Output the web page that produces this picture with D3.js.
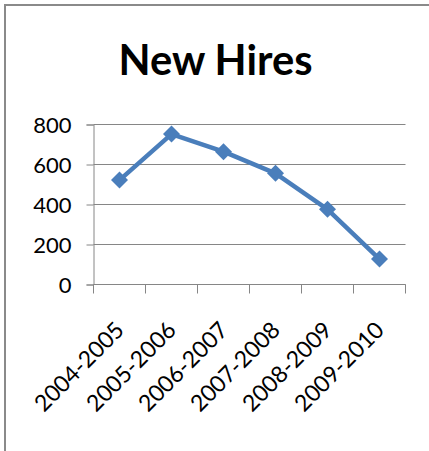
<!DOCTYPE html>
<html>
<head>
<meta charset="utf-8">
<script src="https://cdn.jsdelivr.net/npm/d3@7"></script>
<style>
  html, body { margin: 0; padding: 0; background: #fff; }
  svg { display: block; }
</style>
</head>
<body>
<svg id="chart" width="429" height="451"></svg>
<script>
const categories = ["2004-2005", "2005-2006", "2006-2007", "2007-2008", "2008-2009", "2009-2010"];
const values = [522, 752, 664, 556, 376, 127];
const yTicks = [0, 200, 400, 600, 800];
const title = "New Hires";

const svg = d3.select("#chart");
const W = 429, H = 451;
const plot = { left: 93.5, right: 405.5, top: 124.5, bottom: 284.5 };

// frame (top & left edges only, as in the reference)
svg.append("line").attr("x1", 4).attr("x2", W).attr("y1", 5).attr("y2", 5)
  .attr("stroke", "#8a8a8a").attr("stroke-width", 2);
svg.append("line").attr("x1", 5).attr("x2", 5).attr("y1", 4).attr("y2", H)
  .attr("stroke", "#8a8a8a").attr("stroke-width", 2);

// title
svg.append("text")
  .attr("x", 215.5).attr("y", 75)
  .attr("text-anchor", "middle")
  .attr("font-family", "Lato, 'Open Sans', sans-serif")
  .attr("font-weight", "bold")
  .attr("font-size", 42)
  .attr("textLength", 194)
  .attr("lengthAdjust", "spacingAndGlyphs")
  .attr("fill", "#000")
  .text(title);

const x = d3.scaleBand().domain(categories).range([plot.left, plot.right]).padding(0);
const y = d3.scaleLinear().domain([0, 800]).range([plot.bottom, plot.top]);

// y axis
const yAxis = d3.axisLeft(y).tickValues(yTicks).tickSize(7).tickPadding(15).tickFormat(d3.format("d"));
const gy = svg.append("g").attr("transform", `translate(${plot.left},0)`).call(yAxis);
gy.select(".domain").attr("stroke", "#868686");
gy.selectAll(".tick line").attr("stroke", "#868686");
gy.selectAll(".tick text")
  .attr("font-family", "Lato, 'Open Sans', sans-serif")
  .attr("font-size", 22)
  .attr("fill", "#000")
  .attr("dy", "0.36em");

// gridlines
svg.append("g").selectAll("line").data(yTicks).join("line")
  .attr("x1", plot.left).attr("x2", plot.right)
  .attr("y1", d => y(d)).attr("y2", d => y(d))
  .attr("stroke", "#868686").attr("stroke-width", 1);

// x axis with boundary ticks
const boundaries = categories.map(c => x(c)).concat([x(categories[categories.length - 1]) + x.bandwidth()]);
const gx = svg.append("g");
gx.append("line").attr("x1", plot.left).attr("x2", plot.right)
  .attr("y1", plot.bottom).attr("y2", plot.bottom).attr("stroke", "#868686");
gx.selectAll("line.tk").data(boundaries).join("line").attr("class", "tk")
  .attr("x1", d => d).attr("x2", d => d)
  .attr("y1", plot.bottom).attr("y2", plot.bottom + 9)
  .attr("stroke", "#868686");

gx.selectAll("text").data(categories).join("text")
  .attr("transform", d => `translate(${x(d) + x.bandwidth() / 2 + 6},${plot.bottom + 47}) rotate(-45)`)
  .attr("text-anchor", "end")
  .attr("font-family", "Lato, 'Open Sans', sans-serif")
  .attr("font-size", 23)
  .attr("fill", "#000")
  .text(d => d);

// line series
const color = "#4a7ebb";
const cx = i => x(categories[i]) + x.bandwidth() / 2;
const line = d3.line().x((d, i) => cx(i)).y(d => y(d));
svg.append("path").datum(values)
  .attr("d", line)
  .attr("fill", "none")
  .attr("stroke", color)
  .attr("stroke-width", 4.5)
  .attr("stroke-linejoin", "round");

svg.append("g").selectAll("path").data(values).join("path")
  .attr("d", d3.symbol().type(d3.symbolSquare).size(144))
  .attr("transform", (d, i) => `translate(${cx(i)},${y(d)}) rotate(45)`)
  .attr("fill", color);
</script>
</body>
</html>
